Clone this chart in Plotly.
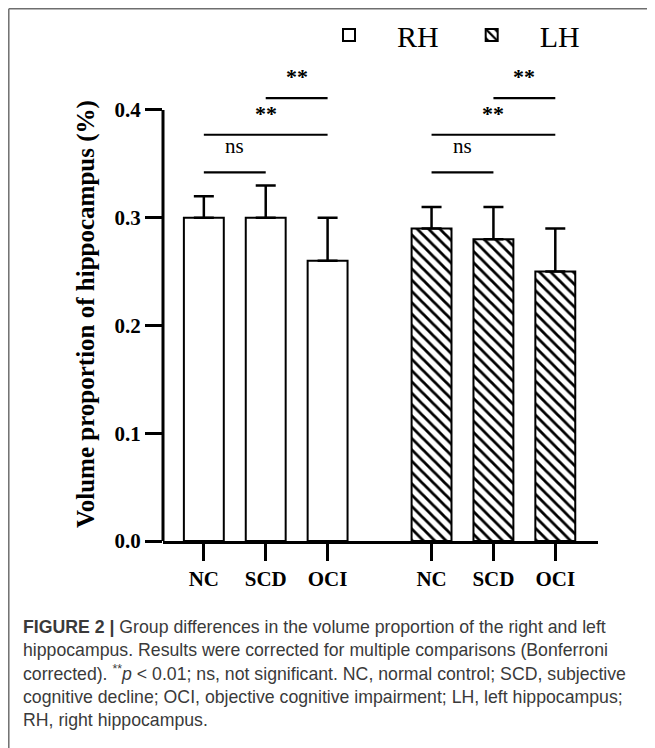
import plotly.graph_objects as go

# ---------------- data ----------------
groups = ["NC", "SCD", "OCI"]
rh_mean = [0.30, 0.30, 0.26]
rh_err = [0.02, 0.03, 0.04]
lh_mean = [0.29, 0.28, 0.25]
lh_err = [0.02, 0.03, 0.04]
y_ticks = [0.0, 0.1, 0.2, 0.3, 0.4]
series_names = ["RH", "LH"]
# (group index a, group index b, label)
comparisons = [(0, 1, "ns"), (0, 2, "**"), (1, 2, "**")]
bracket_levels = [0.342, 0.377, 0.411]
y_title = "Volume proportion of hippocampus (%)"
caption_lines = [
    "<b>FIGURE 2 |</b> Group differences in the volume proportion of the right and left",
    "hippocampus. Results were corrected for multiple comparisons (Bonferroni",
    "corrected). <sup>**</sup><i>p</i> &lt; 0.01; ns, not significant. NC, normal control; SCD, subjective",
    "cognitive decline; OCI, objective cognitive impairment; LH, left hippocampus;",
    "RH, right hippocampus.",
]

# ---------------- geometry ----------------
OFF = 8                      # page body margin of the html page
W, H = 655 - OFF, 748 - OFF
ML, MR, MT, MB = 155, 57, 12, 207
PW, PH = W - ML - MR, H - MT - MB
group_gap = 1.68
x_rh = [i + 1 for i in range(len(groups))]
x_lh = [i + 1 + group_gap + len(groups) - 1 for i in range(len(groups))]
x_range = [0.34, 7.37]
y_range = [0, 0.4835]
bar_w = 0.645


def px_x(sx):
    """screen x (px) -> paper x"""
    return (sx - OFF - ML) / PW


def px_y(sy):
    """screen y (px) -> paper y"""
    return (H - MB - (sy - OFF)) / PH


SERIF = "Liberation Serif"
SANS = "Liberation Sans"

fig = go.Figure()
fig.add_trace(go.Bar(
    x=x_rh, y=rh_mean, width=bar_w, name=series_names[0],
    marker=dict(color="white", line=dict(color="black", width=2)),
    error_y=dict(type="data", symmetric=False, array=rh_err,
                 arrayminus=[0] * len(rh_err), color="black",
                 thickness=2.5, width=10),
))
fig.add_trace(go.Bar(
    x=x_lh, y=lh_mean, width=bar_w, name=series_names[1],
    marker=dict(color="white", line=dict(color="black", width=2),
                pattern=dict(shape="\\", fgcolor="black", bgcolor="white",
                             fgopacity=1, size=8, solidity=0.35)),
    error_y=dict(type="data", symmetric=False, array=lh_err,
                 arrayminus=[0] * len(lh_err), color="black",
                 thickness=2.5, width=10),
))

shapes = []
annotations = []
# significance brackets
for xs in (x_rh, x_lh):
    for (a, b, label), lvl in zip(comparisons, bracket_levels):
        shapes.append(dict(type="line", xref="x", yref="y",
                           x0=xs[a], x1=xs[b], y0=lvl, y1=lvl,
                           line=dict(color="black", width=2.2)))
        is_star = label == "**"
        annotations.append(dict(
            x=(xs[a] + xs[b]) / 2, y=lvl, xref="x", yref="y",
            text=label, showarrow=False, yanchor="bottom",
            yshift=(7 if is_star else 12),
            font=dict(family=SERIF, size=(22 if is_star else 21), color="black",
                      weight=("bold" if is_star else "normal")),
        ))

# y axis line (only up to 0.4)
shapes.append(dict(type="line", xref="paper", yref="y", x0=0, x1=0,
                   y0=0, y1=max(y_ticks), line=dict(color="black", width=3)))

# outer frame (top and left)
shapes.append(dict(type="line", xref="paper", yref="paper",
                   x0=px_x(OFF + 0.8), x1=px_x(W + OFF + 5),
                   y0=px_y(OFF + 0.8), y1=px_y(OFF + 0.8),
                   line=dict(color="#6e6e6e", width=1.5)))
shapes.append(dict(type="line", xref="paper", yref="paper",
                   x0=px_x(OFF + 0.8), x1=px_x(OFF + 0.8),
                   y0=px_y(OFF + 0.8), y1=px_y(H + OFF + 5),
                   line=dict(color="#6e6e6e", width=1.5)))

# y title
annotations.append(dict(
    x=px_x(86), y=px_y(314), xref="paper", yref="paper", text=y_title,
    textangle=-90, showarrow=False, xanchor="center", yanchor="middle",
    font=dict(family=SERIF, size=25, color="black", weight="bold"),
))

# caption
cap_y = [627, 650, 673, 697, 720]
for line, yy in zip(caption_lines, cap_y):
    annotations.append(dict(
        x=px_x(21), y=px_y(yy), xref="paper", yref="paper", text=line,
        showarrow=False, xanchor="left", yanchor="middle", align="left",
        font=dict(family=SANS, size=17.7, color="#3a3a3a"),
    ))

fig.update_layout(
    width=W, height=H,
    margin=dict(l=ML, r=MR, t=MT, b=MB, pad=0, autoexpand=False),
    paper_bgcolor="white", plot_bgcolor="white",
    barmode="overlay",
    showlegend=True,
    legend=dict(orientation="h", x=px_x(585), xanchor="right",
                y=px_y(35), yanchor="middle",
                font=dict(family=SERIF, size=30, color="black"),
                bgcolor="rgba(0,0,0,0)", itemwidth=86),
    xaxis=dict(range=x_range, showgrid=False, zeroline=False,
               showline=True, linecolor="black", linewidth=3,
               ticks="outside", ticklen=17, tickwidth=3, tickcolor="black",
               tickvals=x_rh + x_lh, ticktext=groups + groups,
               tickfont=dict(family=SERIF, size=21, color="black", weight="bold")),
    yaxis=dict(range=y_range, showgrid=False, zeroline=False, showline=False,
               ticks="outside", ticklen=17, tickwidth=3, tickcolor="black",
               tickvals=y_ticks, tickformat=".1f",
               tickfont=dict(family=SERIF, size=21, color="black", weight="bold")),
    shapes=shapes,
    annotations=annotations,
)

fig.write_html("out.html")
